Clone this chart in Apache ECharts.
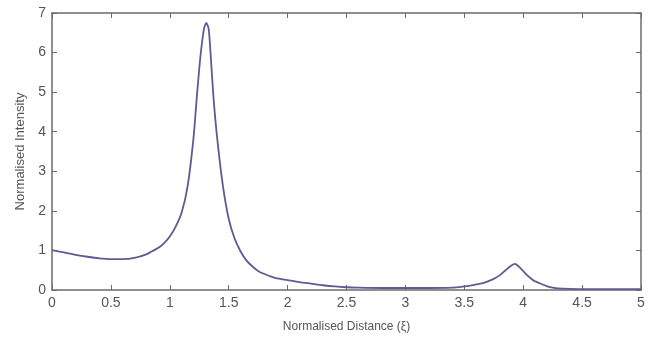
<!DOCTYPE html>
<html><head><meta charset="utf-8">
<script src="https://cdn.jsdelivr.net/npm/echarts@6/dist/echarts.min.js"></script>
<style>html,body{margin:0;padding:0;background:#fff}#c{width:671px;height:339px}</style>
</head><body><div id="c"></div>
<script>
const distance = [0,0.1,0.2,0.3,0.4,0.5,0.6,0.7,0.8,0.85,0.9,0.95,1.0,1.05,1.1,1.15,1.2,1.23,1.26,1.29,1.31,1.33,1.35,1.37,1.4,1.45,1.5,1.55,1.6,1.65,1.7,1.76,1.85,1.9,2.0,2.1,2.2,2.3,2.4,2.5,2.6,2.8,3.0,3.2,3.4,3.5,3.55,3.6,3.65,3.7,3.75,3.8,3.85,3.9,3.93,3.96,4.0,4.03,4.07,4.1,4.14,4.2,4.25,4.3,4.4,4.6,5.0];
const intensity = [1.01,0.95,0.89,0.84,0.80,0.78,0.78,0.81,0.90,0.98,1.06,1.18,1.35,1.6,1.95,2.6,3.8,4.9,5.9,6.6,6.75,6.6,5.8,4.9,3.9,2.65,1.8,1.3,0.98,0.75,0.6,0.46,0.35,0.3,0.25,0.2,0.16,0.12,0.09,0.07,0.06,0.05,0.05,0.05,0.06,0.09,0.11,0.14,0.17,0.22,0.28,0.37,0.5,0.62,0.66,0.6,0.48,0.38,0.28,0.22,0.17,0.1,0.06,0.04,0.03,0.02,0.02];
const xTitle = 'Normalised Distance (ξ)';
const yTitle = 'Normalised Intensity';

const chart = echarts.init(document.getElementById('c'));
const axisCol = '#6b6b6b';
const txt = '#555';
function axis(extra) {
  return Object.assign({
    type: 'value', splitLine: {show: false},
    axisLine: {show: true, onZero: false, lineStyle: {color: axisCol, width: 1.5}},
    axisTick: {show: true, inside: true, length: 5, lineStyle: {color: axisCol}},
  }, extra);
}
chart.setOption({
  animation: false,
  grid: {left: 52, right: 30, top: 13, bottom: 49},
  xAxis: [
    axis({min: 0, max: 5, interval: 0.5, position: 'bottom',
      name: xTitle, nameLocation: 'middle', nameGap: 31,
      nameTextStyle: {color: txt, fontSize: 12, fontFamily: 'Liberation Sans'},
      axisLabel: {color: txt, fontSize: 14, fontFamily: 'Liberation Sans', margin: 6}}),
    axis({min: 0, max: 5, interval: 0.5, position: 'top', axisLabel: {show: false}})
  ],
  yAxis: [
    axis({min: 0, max: 7, interval: 1, position: 'left',
      name: yTitle, nameLocation: 'middle', nameGap: 25,
      nameTextStyle: {color: txt, fontSize: 13, fontFamily: 'Liberation Sans'},
      axisLabel: {color: txt, fontSize: 14, fontFamily: 'Liberation Sans', margin: 6}}),
    axis({min: 0, max: 7, interval: 1, position: 'right', axisLabel: {show: false}})
  ],
  series: [{
    type: 'line', xAxisIndex: 0, yAxisIndex: 0, showSymbol: false, smooth: 0.25,
    lineStyle: {color: '#5c5c92', width: 1.8},
    data: distance.map((d, i) => [d, intensity[i]])
  }]
});
</script></body></html>
